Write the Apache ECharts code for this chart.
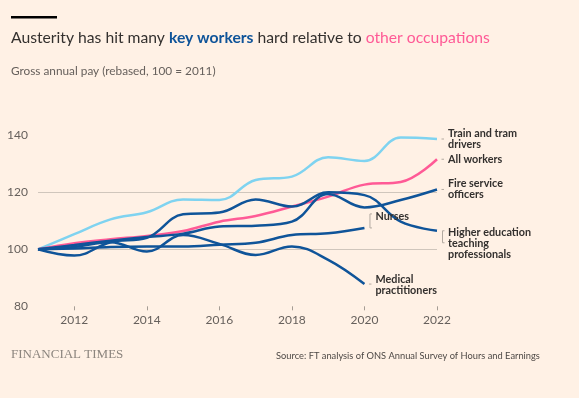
<!DOCTYPE html>
<html>
<head>
<meta charset="utf-8">
<script src="https://cdn.jsdelivr.net/npm/echarts@6/dist/echarts.min.js"></script>
<style>
html,body{margin:0;padding:0;background:#fff1e5;}
#c{width:579px;height:398px;}
</style>
</head>
<body>
<div id="c"></div>
<script>
const years = ['2011','2012','2013','2014','2015','2016','2017','2018','2019','2020','2021','2022'];
const trainDrivers = [100, 105.3, 110.5, 113, 117.5, 117.3, 124.3, 125.5, 132.3, 131, 139.2, 138.7];
const allWorkers = [100, 102.1, 103.5, 104.7, 106.4, 109.7, 111.7, 115, 118.5, 122.7, 123.6, 131.6];
const fireService = [100, 101.5, 103, 104.3, 105.5, 108, 108.3, 109.7, 119.4, 114.7, 117.3, 121];
const higherEducation = [100, 97.8, 102.5, 104, 112.3, 112.9, 117.5, 115, 120, 119, 109.7, 106.5];
const nurses = [100, 100.3, 100.8, 101, 101, 101.6, 102.3, 105, 105.6, 107.5];
const medical = [100, 100.8, 102.5, 99.2, 105, 101.9, 98, 101, 96.3, 87.8];
const yTicks = [80, 100, 120, 140];

const DARK = '#0f5499', LIGHT = '#7fd3f0', PINK = '#ff5a96';
const TXT = '#33302e';
const FONT = 'Lato';

function mk(name, data, color, label, offY, z) {
  return {
    name, type: 'line', data, smooth: 0.4, symbol: 'none', z: z || 2,
    lineStyle: { color, width: 2.5 },
    emphasis: { disabled: true },
    endLabel: {
      show: true, formatter: label, color: TXT, fontSize: 10.8, fontWeight: 700,
      fontFamily: FONT, lineHeight: 11, distance: 11, offset: [0, offY], align: 'left'
    }
  };
}

const chart = echarts.init(document.getElementById('c'), null, { renderer: 'canvas' });
chart.setOption({
  backgroundColor: '#fff1e5',
  animation: false,
  title: [{
    text: 'Austerity has hit many {k|key workers} hard relative to {o|other occupations}',
    left: 11, top: 30, padding: 0,
    textStyle: {
      fontFamily: FONT, fontSize: 15.7, fontWeight: 400, color: TXT,
      rich: {
        k: { fontFamily: FONT, fontSize: 15.7, fontWeight: 700, color: DARK },
        o: { fontFamily: FONT, fontSize: 15.7, fontWeight: 400, color: PINK }
      }
    }
  }, {
    text: 'Gross annual pay (rebased, 100 = 2011)',
    left: 11, top: 65.5, padding: 0,
    textStyle: { fontFamily: FONT, fontSize: 11.8, fontWeight: 400, color: '#66605c' }
  }, {
    text: 'FINANCIAL TIMES',
    left: 11, top: 348, padding: 0,
    textStyle: { fontFamily: 'Liberation Serif', fontSize: 13, fontWeight: 400, color: '#8c857e' }
  }, {
    text: 'Source: FT analysis of ONS Annual Survey of Hours and Earnings',
    left: 276, top: 351.5, padding: 0,
    textStyle: { fontFamily: FONT, fontSize: 9.3, fontWeight: 400, color: '#4d4845' }
  }],
  grid: { left: 38, right: 142, top: 135.3, bottom: 91.7 },
  xAxis: {
    type: 'category', data: years, boundaryGap: false,
    axisLine: { show: false },
    axisTick: { show: true, length: 4, lineStyle: { color: '#a59d94' }, interval: (i) => i % 2 === 1 },
    axisLabel: { interval: (i) => i % 2 === 1, color: '#66605c', fontSize: 12, fontFamily: FONT, margin: 8 },
    splitLine: { show: false }
  },
  yAxis: {
    type: 'value', min: yTicks[0], max: yTicks[yTicks.length - 1], interval: 20,
    axisLine: { show: false }, axisTick: { show: false },
    axisLabel: { color: '#66605c', fontSize: 12, fontFamily: FONT, margin: 10 },
    splitLine: { show: true, lineStyle: { color: ['rgba(0,0,0,0)', '#d0c6bc', '#d0c6bc', 'rgba(0,0,0,0)'], width: 1 } }
  },
  series: [
    mk('Train and tram drivers', trainDrivers, LIGHT, 'Train and tram\ndrivers', 0, 2),
    mk('All workers', allWorkers, PINK, 'All workers', 0, 3),
    mk('Fire service officers', fireService, DARK, 'Fire service\nofficers', 0, 4),
    mk('Higher education teaching professionals', higherEducation, DARK, 'Higher education\nteaching\nprofessionals', 13, 4),
    mk('Nurses', nurses, DARK, 'Nurses', -11, 4),
    mk('Medical practitioners', medical, DARK, 'Medical\npractitioners', 1, 4)
  ]
});

// connector dashes & brackets computed from axis scales
const ends = [
  [years[11], trainDrivers[11], 0],
  [years[11], allWorkers[11], 0],
  [years[11], fireService[11], 0],
  [years[11], higherEducation[11], 12],
  [years[9], nurses[9], -14],
  [years[9], medical[9], 0]
];
const g = [{ type: 'rect', shape: { x: 11, y: 16, width: 46, height: 2.5 }, style: { fill: '#000' } }];
ends.forEach(([x, y, span]) => {
  const p = chart.convertToPixel({ gridIndex: 0 }, [x, y]);
  const bx = p[0] + 5.5;
  if (span === 0) {
    g.push({ type: 'line', shape: { x1: bx - 1, y1: p[1], x2: bx + 1.5, y2: p[1] }, style: { stroke: '#b3aaa1', lineWidth: 1 }, silent: true });
  } else {
    const y2 = p[1] + span;
    g.push({ type: 'polyline', shape: { points: [[bx + 2, p[1]], [bx, p[1]], [bx, y2], [bx + 2, y2]] }, style: { stroke: '#b3aaa1', lineWidth: 1, fill: null }, silent: true });
  }
});
chart.setOption({ graphic: g });
</script>
</body>
</html>
